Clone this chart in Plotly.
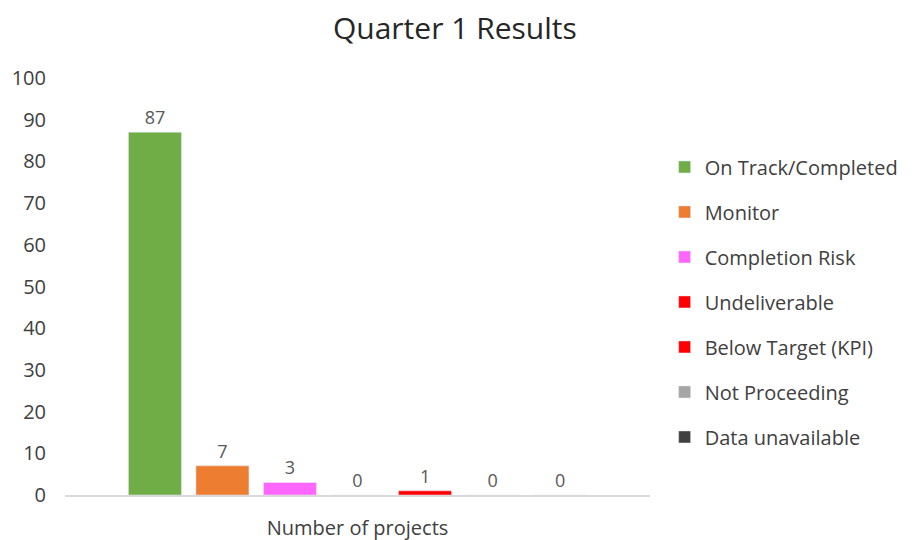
import plotly.graph_objects as go

categories = ["Number of projects"]
series_names = ["On Track/Completed", "Monitor", "Completion Risk", "Undeliverable",
                "Below Target (KPI)", "Not Proceeding", "Data unavailable"]
series_values = [87, 7, 3, 0, 1, 0, 0]
series_colors = ["#70AD47", "#ED7D31", "#FF66FF", "#FF0000", "#FF0000", "#A5A5A5", "#404040"]
y_ticks = list(range(0, 101, 10))

FONT = "Open Sans, Lato, sans-serif"
TXT = "#404040"

fig = go.Figure()
for i, (name, val, col) in enumerate(zip(series_names, series_values, series_colors)):
    fig.add_trace(go.Bar(
        x=categories, y=[val], name=name, marker_color=col,
        text=[str(val)], textposition="outside", cliponaxis=False,
        textfont=dict(family=FONT, size=18, color="#595959"),
        legendgroup=f"g{i}",
    ))

fig.update_layout(
    width=912, height=540,
    paper_bgcolor="white", plot_bgcolor="white",
    margin=dict(l=57, r=270, t=70, b=53, autoexpand=False),
    barmode="group", bargap=0.192, bargroupgap=0.215,
    title=dict(text="Quarter 1 Results", x=0.49, xref="container", y=0.962, yanchor="middle",
               font=dict(family=FONT, size=30, color="#262626")),
    font=dict(family=FONT, color=TXT),
    showlegend=True,
    legend=dict(x=1.025, xanchor="left", y=0.463, yanchor="middle",
                font=dict(family=FONT, size=20, color=TXT),
                tracegroupgap=16, traceorder="grouped", itemwidth=30),
    uniformtext=dict(mode=False),
)
fig.update_xaxes(showline=True, linecolor="#D9D9D9", linewidth=1.5, showgrid=False,
                 automargin=False,
                 ticks="outside", ticklen=14, tickcolor="rgba(0,0,0,0)",
                 tickfont=dict(family=FONT, size=20, color=TXT))
fig.update_yaxes(range=[0, 100], tickvals=y_ticks, showgrid=False, zeroline=False,
                 showline=False, ticklabelstandoff=18, automargin=False,
                 tickfont=dict(family=FONT, size=20, color=TXT))

fig.write_html("out.html")
